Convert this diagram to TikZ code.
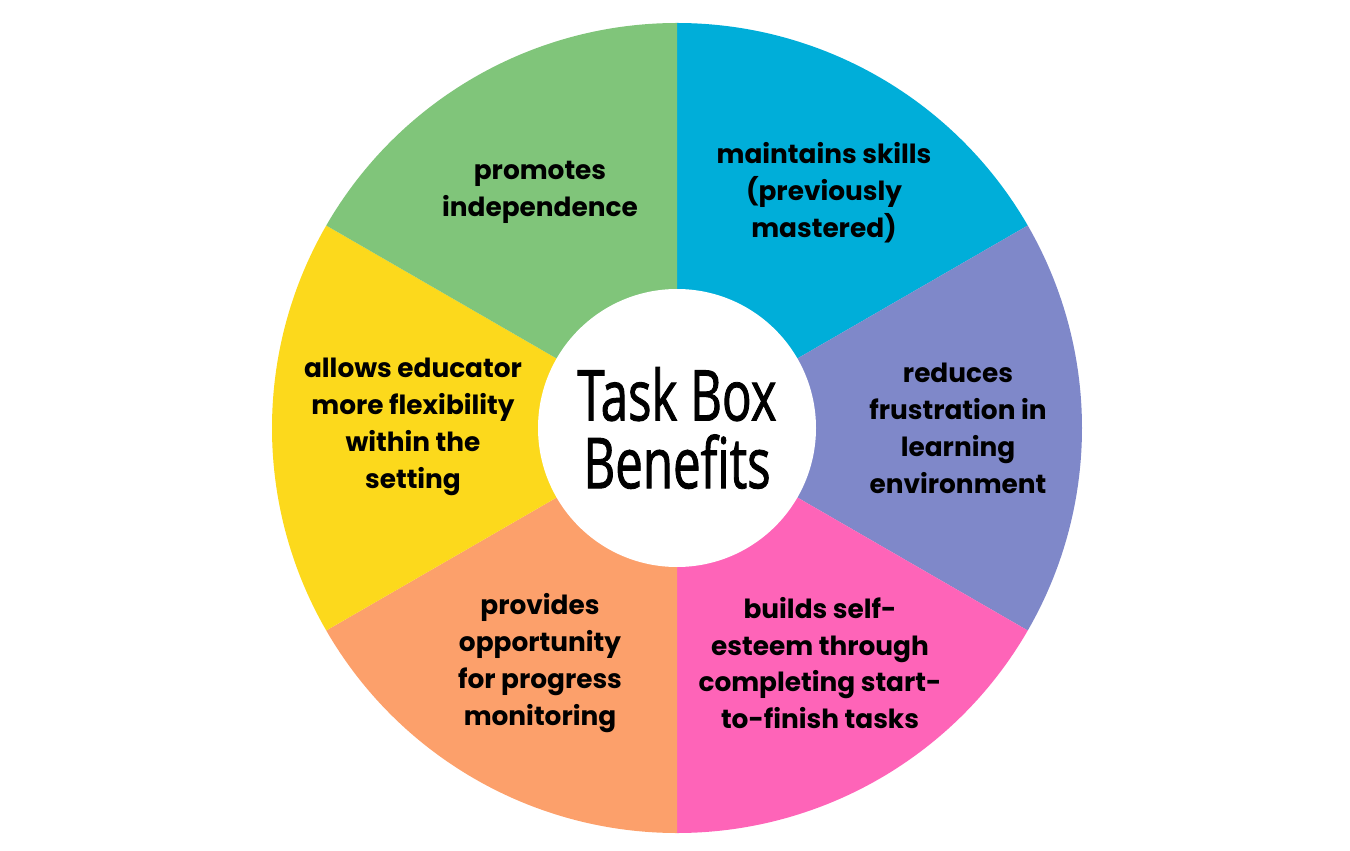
\documentclass[tikz,border=0pt]{standalone}
\usepackage{fontspec}
\setmainfont{Poppins}
\newfontfamily\titlefont[FakeStretch=0.7, FakeBold=1.2]{Open Sans}
\usepackage{tikz}
\usetikzlibrary{positioning}

\definecolor{segcyan}{HTML}{00AED9}
\definecolor{segpurple}{HTML}{7F88C9}
\definecolor{segpink}{HTML}{FE64B8}
\definecolor{segorange}{HTML}{FCA06B}
\definecolor{segyellow}{HTML}{FCD91C}
\definecolor{seggreen}{HTML}{80C57A}

\begin{document}
\begin{tikzpicture}[
        % Define styles for the components
        segment/.style={draw=none},
        benefit/.style={align=center, font=\fontsize{15}{21}\selectfont\bfseries, text=black},
        hub/.style={circle, fill=white, minimum size=5.56cm, inner sep=0pt, align=center, font=\titlefont\fontsize{40}{38.5}\selectfont}
    ]
    \useasboundingbox (-13.54,-8.44) rectangle (13.46,8.56);

    % Draw wedges
    \fill[segment, segcyan] (0,0) -- (30:8.1) arc (30:90:8.1) -- cycle;
    \fill[segment, segpurple] (0,0) -- (-30:8.1) arc (-30:30:8.1) -- cycle;
    \fill[segment, segpink] (0,0) -- (-90:8.1) arc (-90:-30:8.1) -- cycle;
    \fill[segment, segorange] (0,0) -- (210:8.1) arc (210:270:8.1) -- cycle;
    \fill[segment, segyellow] (0,0) -- (150:8.1) arc (150:210:8.1) -- cycle;
    \fill[segment, seggreen] (0,0) -- (90:8.1) arc (90:150:8.1) -- cycle;

    % Define nodes
    \node[hub] (title) at (0,0) {Task Box\\Benefits};
    \node[benefit] (skills) at (2.94,4.7) {maintains skills\\(previously\\mastered)};
    \node[benefit] (frustration) at (5.62,0) {reduces\\frustration in\\learning\\environment};
    \node[benefit] (esteem) at (2.86,-4.7) {builds self-\\esteem through\\completing start-\\to-finish tasks};
    \node[benefit] (progress) at (-2.74,-4.7) {provides\\opportunity\\for progress\\monitoring};
    \node[benefit] (flexibility) at (-5.28,0.02) {allows educator\\more flexibility\\within the\\setting};
    \node[benefit] (independence) at (-2.74,4.72) {promotes\\independence};
    \end{tikzpicture}
\end{document}
